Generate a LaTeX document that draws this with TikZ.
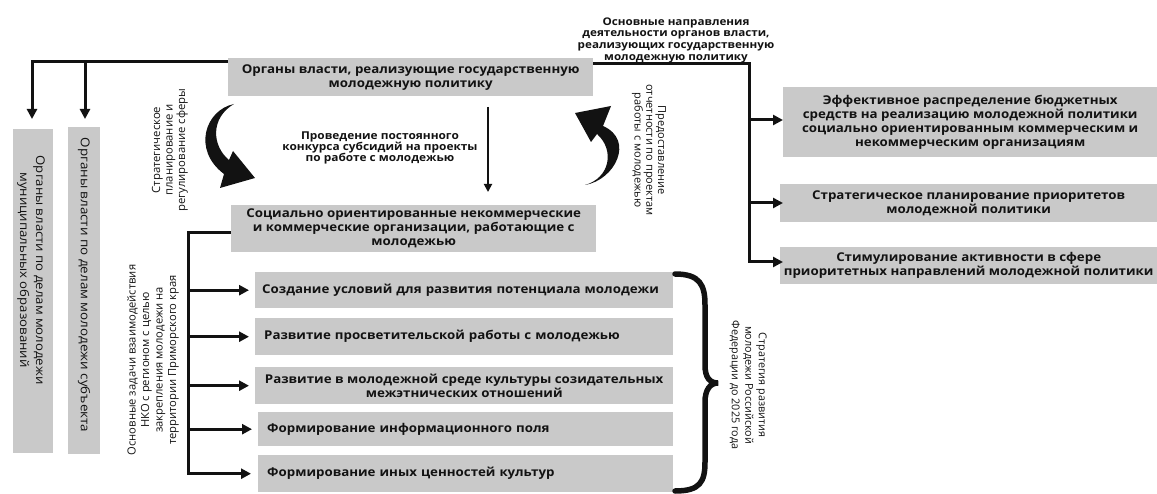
\documentclass[tikz,border=0pt]{standalone}
\usepackage{fontspec}
\setmainfont{Open Sans}
\newfontfamily\boxfont[FakeStretch=1.1]{Open Sans}
\usetikzlibrary{arrows.meta}
\definecolor{boxgray}{RGB}{201,201,201}
\definecolor{ink}{RGB}{18,18,18}
\begin{document}
\begin{tikzpicture}[x=1pt,y=-1pt,
  gbox/.style={fill=boxgray, inner sep=0pt, text=ink, align=center, font=\boxfont\bfseries\fontsize{12.1}{14}\selectfont},
  conn/.style={draw=ink, line width=3pt},
  tipk/.style={-{Triangle[length=10pt,width=10pt]}},
  lbl/.style={text=ink, align=center, inner sep=0pt},
  smallb/.style={font=\boxfont\bfseries\fontsize{10.6}{11.7}\selectfont},
  vlbl/.style={font=\fontsize{11}{12.5}\selectfont}
]
\useasboundingbox (0,0) rectangle (1157,494);

% top box
\node[gbox, anchor=north west, minimum width=365pt, minimum height=38pt] (top) at (228,58) {Органы власти, реализующие государственную\\молодежную политику};

% left vertical boxes
\node[gbox, anchor=north west, minimum width=40pt, minimum height=324pt] (bA) at (13,129) {};
\node[gbox, anchor=north west, minimum width=32pt, minimum height=327pt] (bB) at (68,127) {};
\node[lbl, rotate=-90, font=\boxfont\fontsize{12}{16}\selectfont] (tA) at (31,270) {Органы власти по делам молодежи\\муниципальных образований};
\node[lbl, rotate=-90, font=\boxfont\fontsize{12.2}{16}\selectfont] (tB) at (84,285) {Органы власти по делам молодежи субъекта};

\coordinate (jTop) at (228,62);
\coordinate (aA) at (32,119);
\coordinate (aB) at (85,119);
\coordinate (jB) at (85,62);
\draw[conn, tipk] (jTop) -| (aA);
\draw[conn, tipk] (jB) -- (aB);

% right side
\node[gbox, anchor=north west, minimum width=374pt, minimum height=70pt] (r1) at (783,87) {Эффективное распределение бюджетных\\средств на реализацию молодежной политики\\социально ориентированным коммерческим и\\некоммерческим организациям};
\node[gbox, anchor=north west, minimum width=377pt, minimum height=38pt] (r2) at (780,184) {Стратегическое планирование приоритетов\\молодежной политики};
\node[gbox, anchor=north west, minimum width=377pt, minimum height=37pt] (r3) at (780,247) {Стимулирование активности в сфере\\приоритетных направлений молодежной политики};

\coordinate (jR) at (593,64);
\coordinate (cR3) at (749,262);
\coordinate (eR3) at (783,262);
\coordinate (jR1) at (749,120);
\coordinate (eR1) at (783,120);
\coordinate (jR2) at (749,203);
\coordinate (eR2) at (783,203);
\draw[conn, tipk] (jR) -| (cR3) -- (eR3);
\draw[conn, tipk] (jR1) -- (eR1);
\draw[conn, tipk] (jR2) -- (eR2);

\node[lbl, smallb] (dirlbl) at (676,40) {Основные направления\\деятельности органов власти,\\реализующих государственную\\молодежную политику};

% middle
\node[lbl, font=\boxfont\bfseries\fontsize{10.8}{11.2}\selectfont] (ml) at (380,148) {Проведение постоянного\\конкурса субсидий на проекты\\по работе с молодежью};
\coordinate (d1) at (488,107);
\coordinate (d2) at (488,192);
\draw[draw=ink, line width=1.8pt, -{Triangle[length=8pt,width=8pt]}] (d1) -- (d2);

\node[gbox, anchor=north west, minimum width=365pt, minimum height=47pt] (mid) at (231,205) {Социально ориентированные некоммерческие\\и коммерческие организации, работающие с\\молодежью};

\node[lbl, vlbl, rotate=90, font=\fontsize{11.3}{12.5}\selectfont] (sp) at (170,150) {Стратегическое\\планирование и\\регулирование сферы};
\node[lbl, vlbl, rotate=-90, font=\fontsize{11}{11.8}\selectfont] (rp) at (649,150) {Предоставление\\отчетности по проектам\\работы с молодежью};

% swooshes
\fill[ink] (234,104) .. controls (205,110) and (192,150) .. (224,174) -- (220,188) -- (255,178) -- (233,151) -- (229,160) .. controls (212,146) and (210,118) .. (234,104) -- cycle;
\fill[ink] (585,185) .. controls (615,180) and (635,140) .. (603,126) -- (611,106) -- (575,113) -- (591,142) -- (597,134) .. controls (615,150) and (610,178) .. (585,185) -- cycle;

% list
\node[gbox, anchor=north west, minimum width=418pt, minimum height=36pt, text width=404pt, align=left] (l1) at (255,272) {Создание условий для развития потенциала молодежи};
\node[gbox, anchor=north west, minimum width=418pt, minimum height=37pt, text width=400pt, align=left] (l2) at (255,318) {Развитие просветительской работы с молодежью};
\node[gbox, anchor=north west, minimum width=418pt, minimum height=37pt] (l3) at (255,367) {Развитие в молодежной среде культуры созидательных\\межэтнических отношений};
\node[gbox, anchor=north west, minimum width=415pt, minimum height=34pt, text width=397pt, align=left] (l4) at (258,412) {Формирование информационного поля};
\node[gbox, anchor=north west, minimum width=415pt, minimum height=37pt, text width=397pt, align=left] (l5) at (258,455) {Формирование иных ценностей культур};

\coordinate (jM) at (231,233);
\coordinate (vL) at (188,233);
\draw[conn, tipk] (jM) -| (vL |- l5.west) -- ([xshift=-7pt]l5.west);
\foreach \n in {l1,l2,l3,l4} {
  \draw[conn, tipk] (vL |- \n.west) -- ([xshift=-6pt]\n.west);
}

\node[lbl, rotate=90, font=\fontsize{11.2}{13.5}\selectfont] (ll) at (153,360) {Основные задачи взаимодействия\\НКО с регионом с целью\\закрепления молодежи на\\территории Приморского края};

% brace
\draw[draw=ink, line width=5.5pt, line cap=round] (675,274) .. controls (700,274) and (705,285) .. (705,305) -- (705,365) .. controls (705,378) and (710,383) .. (718,383) .. controls (710,383) and (705,390) .. (705,402) -- (705,462) .. controls (705,482) and (700,491) .. (675,491);
\node[lbl, rotate=-90, font=\fontsize{10.8}{13.5}\selectfont] (sl) at (748,385) {Стратегия развития\\молодежи Российской\\Федерации до 2025 года};
\end{tikzpicture}
\end{document}
